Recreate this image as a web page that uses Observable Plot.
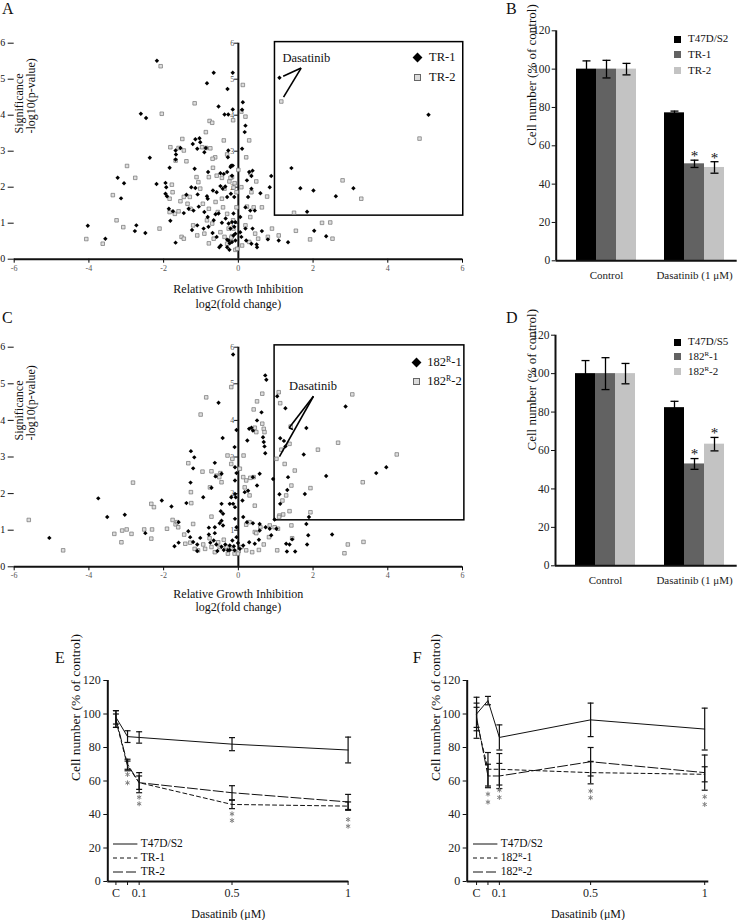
<!DOCTYPE html>
<html>
<head>
<meta charset="utf-8">
<script src="https://cdn.jsdelivr.net/npm/d3@7"></script>
<script src="https://cdn.jsdelivr.net/npm/@observablehq/plot@0.6"></script>
<style>
  html,body{margin:0;padding:0;background:#fff;}
  #fig{position:relative;width:738px;height:920px;overflow:hidden;background:#fff;
       font-family:"Liberation Serif","Times New Roman",serif;color:#111;}
  #fig svg{position:absolute;}
  #fig svg, #fig svg text{font-family:"Liberation Serif","Times New Roman",serif !important;}
  .t{position:absolute;white-space:nowrap;}
  .sup{font-size:62%;position:relative;top:-0.55em;}
</style>
</head>
<body>
<div id="fig"></div>
<script>
// ================= DATA =================
// ---- Volcano plots (A, C): [log2 fold change, -log10 p] ----
const volXTicks = [-6, -4, -2, 0, 2, 4, 6];
const volYTicks = [1, 2, 3, 4, 5, 6];

const volA_TR1 = [[-2.18,5.51],[-0.66,5.18],[-0.15,5.18],[-0.84,4.89],[-0.29,4.73],[0.12,4.36],[0.1,4.15],[-0.53,4.24],[-0.37,4.02],[-0.27,4.02],[-0.15,4.16],[-2.61,4.04],[-2.47,3.92],[0.19,3.71],[0.17,3.53],
[-1.15,3.33],[-1.04,3.36],[-1.02,3.25],[-1.22,3.2],[-1.1,3.07],[-0.87,3.09],[-0.91,2.97],[-1.55,3.09],[-1.68,3.02],[-1.67,2.91],[-1.68,2.77],[-0.27,3.02],[0.1,3.07],[-0.15,2.6],[-0.19,2.6],[-0.21,2.56],[-0.28,2.83],[-2.37,2.82],[-1.84,2.54],
[-1.17,2.51],[-0.81,2.42],[-0.48,2.39],[-0.39,2.37],[-0.3,2.42],[-0.17,2.32],[0.38,2.46],[0.29,2.42],[0.35,2.31],[0.23,2.19],[0.88,2.31],[0.84,2.0],[0.35,1.96],[0.59,1.83],[0.26,1.73],
[-3.23,2.26],[-3.06,2.11],[-3.14,1.69],[-2.19,2.09],[-1.95,2.12],[-1.93,2.0],[-1.95,1.82],[-1.91,1.75],
[-1.39,1.79],[-1.26,2.0],[-1.15,1.98],[-1.09,1.8],[-0.84,1.75],[-0.82,1.68],[-0.68,1.91],[-0.58,1.86],[-0.48,2.03],[-0.42,1.96],[-0.35,2.02],[-0.3,1.73],[-0.2,1.82],[-0.11,1.73],
[-1.86,1.4],[-1.82,1.07],[-1.75,1.33],[-1.46,1.28],[-1.33,1.4],[-1.2,1.35],[-1.06,1.46],[-0.91,1.31],[-0.82,1.17],[-0.66,1.08],[-0.61,1.25],[-0.53,1.27],[-0.44,1.01],[-0.34,1.13],[-0.26,0.99],[-0.13,1.27],[-0.17,1.03],[-0.11,0.9],
[0.19,1.44],[0.32,1.35],[0.44,1.35],[0.05,1.17],[-0.08,1.03],[-0.21,0.85],[-0.08,0.71],[0.05,0.75],[0.19,0.85],[0.38,0.85],[0.08,0.62],[0.21,0.52],[0.35,0.43],[0.49,0.41],[0.5,0.33],[0.63,0.78],[0.79,0.55],[1.08,0.52],[1.33,0.47],[2.03,0.79],[2.35,0.64],
[-0.26,0.52],[-0.17,0.48],[-0.3,0.33],[-0.24,0.26],
[-4.03,0.93],[-3.56,0.57],[-2.77,0.78],[-2.73,0.94],[-2.49,0.73],[-1.68,0.46],
[-1.24,0.81],[-1.1,0.94],[-0.93,0.85],[-0.8,0.9],[-0.69,0.73],[-0.58,0.62],[-0.51,0.33],[-0.47,0.38],[-0.3,0.54],[-0.23,0.44],[-0.13,0.66],[-0.08,0.52],
[1.1,5.04],[5.09,4.01],[1.42,2.53],[1.66,1.97],[2.01,1.91],[2.61,1.75],[3.08,1.97],[1.84,1.32]];

const volA_TR2 = [[-2.08,5.36],[0.12,4.84],[-1.17,4.33],[-2.05,4.04],[0.08,4.1],[0.19,3.96],[-0.77,3.84],[-0.7,3.79],[-0.14,3.86],[-0.87,3.53],[-1.5,3.34],[0.29,3.3],[-0.39,3.3],
[-1.82,3.11],[-1.46,3.02],[-1.6,3.09],[-1.68,2.74],[-1.39,2.72],[-0.97,3.11],[-0.86,3.09],[-0.75,3.08],[-0.3,2.91],[-0.62,2.83],[-0.69,2.79],[0.21,2.83],
[-2.98,2.59],[-2.76,2.26],[-3.36,1.78],[-3.26,1.08],[-3.08,0.89],[-4.07,0.56],[-3.63,0.43],[-2.11,0.85],
[-1.78,2.07],[-1.76,1.86],[-1.84,1.68],[-1.84,1.31],[-1.7,1.26],[-1.6,1.33],[-1.55,1.61],[-1.46,1.73],[-1.3,1.73],[-1.12,2.28],[-1.07,2.14],[-1.02,1.96],[-0.79,2.28],[-0.68,2.54],[-0.58,2.32],[-0.44,2.26],[-0.37,1.96],[-0.24,2.16],[-0.17,2.28],[-0.13,1.99],[-0.05,1.86],
[-1.36,1.54],[-1.28,1.4],[-1.21,0.94],[-0.95,1.54],[-0.79,1.4],[-0.84,1.08],[-0.7,0.99],[-0.61,1.59],[-0.55,1.31],[-0.44,1.68],[-0.41,1.44],[-0.3,1.26],[-0.26,0.85],[-0.14,1.08],[-0.05,1.44],
[-1.52,0.62],[-1.46,0.57],[-1.1,0.66],[-0.91,0.71],[-0.79,0.44],[-0.66,0.57],[-0.48,0.75],[-0.37,0.62],[-0.3,0.43],[-0.17,0.64],[-0.08,0.26],
[0.0,2.48],[-0.21,2.26],[-0.1,2.11],[0.08,2.0],[0.32,2.39],[0.35,1.86],[0.48,2.16],[0.77,1.74],[0.63,1.44],[0.41,1.44],[0.23,1.46],[0.32,1.17],[0.19,0.94],
[0.9,0.85],[1.08,0.66],[1.54,0.79],[1.92,0.55],[2.24,1.01],[2.46,1.02],[2.52,0.57],[0.79,0.62],[0.53,0.57],[0.45,0.71],[0.29,0.48],[0.1,0.38],[-0.03,0.29],[-0.19,0.6],[-0.13,0.85],
[1.15,4.38],[4.85,3.35],[2.79,2.19],[3.29,1.68],[1.49,1.29]];

const volC_R1 = [[-0.14,5.8],[0.72,5.23],[0.75,5.11],[1.04,4.66],[1.26,4.33],[2.87,4.38],[0.62,4.22],[-0.53,4.48],
[0.5,4.0],[0.29,3.77],[0.35,3.8],[0.39,3.72],[0.24,3.45],[-0.05,3.74],[-0.42,3.52],[-0.1,3.27],
[0.66,3.54],[0.68,3.41],[0.7,3.29],[0.72,3.1],[1.12,3.51],[1.22,3.44],[1.26,3.29],[1.82,3.79],[1.75,3.07],
[-1.27,3.16],[-1.18,2.99],[-1.21,2.69],[-1.28,2.3],[-0.63,2.84],
[2.35,2.48],[3.69,2.56],[3.96,2.72],[1.33,2.45],[1.31,2.1],[1.1,1.98],[1.12,1.72],[1.78,1.99],[1.89,1.36],[1.82,1.17],
[0.57,2.54],[0.5,2.22],[0.39,2.45],[0.26,2.08],[0.17,2.04],[0.11,1.81],[-0.07,1.9],[-0.14,1.72],[-0.05,2.56],[0.93,2.4],[0.97,1.29],
[0.13,1.36],[0.23,1.22],[0.39,1.19],[0.57,1.17],[0.73,1.08],[0.84,1.04],[1.02,1.04],
[1.87,0.86],[2.51,0.88],[1.44,0.75],[1.28,0.63],[1.37,0.61],[1.3,0.42],[1.52,0.42],[1.84,0.61],[0.88,0.86],[0.57,0.99],[0.55,0.74],[0.44,0.63],[0.29,0.67],[0.13,0.58],[0.04,0.49],[-0.1,0.45],[-0.23,0.58],[-0.28,0.45],
[-0.45,2.54],[-0.61,2.47],[-0.72,2.16],[-0.94,1.9],[-1.39,1.74],[-1.79,1.65],[-2.05,1.81],[-3.75,1.87],[-3.51,1.36],[-3.04,1.42],[-5.06,0.79],[-2.49,0.92],
[-0.45,1.72],[-0.47,1.52],[-0.41,1.45],[-0.45,1.26],[-0.5,1.19],[-0.41,1.13],
[-0.09,2.72],[-0.09,2.36],[-0.09,1.99],[-0.09,1.63],[-0.09,1.31],[-0.05,1.08],[-0.05,0.81],[-0.19,1.9],[-0.23,1.72],
[-1.6,1.22],[-1.71,0.56],[-1.6,0.66],[-1.34,0.97],[-1.29,0.81],[-1.21,0.68],[-1.1,0.61],[-1.1,0.43],[-1.02,0.79],[-0.79,1.07],[-0.79,0.88],[-0.75,0.66],[-0.63,0.92],[-0.66,0.72],[-0.59,0.61],[-0.56,0.43],[-0.45,0.55],[-0.39,0.46],[-0.35,0.61],[-0.23,0.46],[-0.16,0.72],[-0.12,0.56],[-0.01,0.65],[-0.63,1.08]];

const volC_R2 = [[-0.19,4.91],[1.08,4.77],[3.05,4.71],[-0.86,4.63],[0.64,4.73],[0.5,4.52],[1.12,4.47],[0.41,4.3],[-1.01,4.16],
[0.64,3.91],[0.44,3.8],[0.68,3.77],[0.48,3.68],[0.7,3.68],[1.4,3.83],[1.37,3.36],[1.15,3.2],[1.02,2.95],[2.13,3.2],[2.67,3.39],[4.24,3.07],[3.33,2.31],
[1.24,2.81],[1.51,2.63],[1.42,2.22],[1.28,1.95],[1.18,1.81],[1.1,1.4],[1.2,1.43],[1.37,1.52],[1.93,2.15],[1.93,1.49],
[0.41,2.45],[0.32,2.43],[0.21,2.36],[0.13,2.45],[0.17,2.17],[0.3,1.95],[0.44,1.67],[0.04,2.68],
[-0.29,3.04],[-0.19,2.81],[-0.16,2.95],[0.14,3.04],
[-1.34,2.83],[-0.96,2.6],[-0.72,2.61],[-0.59,2.49],[-0.48,2.56],[-0.45,2.31],[-0.51,2.45],[-1.27,2.04],[-0.76,2.17],[-2.82,2.3],[-1.26,1.74],[-2.33,1.72],[-2.26,1.63],[-0.72,1.37],
[-5.61,1.28],[-4.69,0.45],[-3.32,0.9],[-3.13,0.67],[-3.11,0.99],[-2.99,1.02],[-2.86,0.9],[-2.52,1.02],[-2.31,1.02],[-2.33,0.77],[-1.91,1.04],
[-1.76,1.28],[-1.68,1.16],[-1.64,1.22],[-1.61,1.08],[-1.45,0.88],[-1.21,1.17],[-1.17,0.49],[-1.08,0.45],[-0.94,0.61],[-0.89,0.49],[-0.77,0.78],[-0.72,0.54],[-0.63,0.4],[-0.54,0.67],[-0.5,0.54],[-0.39,0.74],[-0.32,0.55],[-0.28,0.36],[-0.19,0.49],[-0.1,0.36],[0.01,0.43],[-1.42,0.63],[-1.29,0.66],
[0.21,1.15],[0.3,1.22],[0.44,0.95],[0.48,0.92],[0.59,1.08],[0.84,1.13],[0.97,1.08],[1.06,1.04],[1.09,1.36],[1.42,1.13],[1.44,0.78],[1.04,0.45],[2.93,0.61],[2.84,0.37],[3.35,0.68],[0.82,0.81],[0.68,0.61],[0.55,0.46],[0.37,0.4],[0.21,0.45],[0.08,0.54],[-0.01,0.36]];

// boxes and annotations (data units)
const volA_box = [{x1: 0.98, x2: 6.02, y1: 1.21, y2: 6.03}];
const volC_box = [{x1: 0.97, x2: 6.05, y1: 1.27, y2: 6.05}];
const volA_annLines = [{x1:1.68,y1:5.31,x2:1.2,y2:5.08},{x1:1.68,y1:5.31,x2:1.21,y2:4.5}];
const volA_annText = [{x:1.82,y:5.59,text:"Dasatinib"}];
const volC_annLines = [{x1:2.01,y1:4.66,x2:1.36,y2:3.8},{x1:1.36,y1:3.8,x2:1.46,y2:3.75},{x1:2.01,y1:4.66,x2:1.1,y2:3.01}];
const volC_annText = [{x:2.0,y:4.95,text:"Dasatinib"}];

// ---- Bar charts (B, D) ----
const barYTicks = [0, 20, 40, 60, 80, 100, 120];
const barColors = ["#000000", "#626262", "#c3c3c3"];
const barGroups = ["Control", "Dasatinib (1 μM)"];
const bSeries = ["T47D/S2", "TR-1", "TR-2"];
const bMean = [[100, 77.2], [100, 50.6], [100, 48.7]];
const bErr  = [[4.3, 0.9], [4.6, 1.9], [3.0, 3.0]];
const bSig  = [[0, 0], [0, 1], [0, 1]];
const dSeries = ["T47D/S5", "182R-1", "182R-2"];
const dMean = [[100, 82.3], [100, 53.0], [100, 63.3]];
const dErr  = [[6.8, 3.3], [8.3, 2.8], [5.3, 3.5]];
const dSig  = [[0, 0], [0, 1], [0, 1]];

// ---- Dose-response (E, F) ----
const doses = [0, 0.05, 0.1, 0.5, 1];
const doseLabels = ["C", "", "0.1", "0.5", "1"];
const doseYTicks = [0, 20, 40, 60, 80, 100, 120];
const eSeries = ["T47D/S2", "TR-1", "TR-2"];
const eMean = [[98, 86.5, 86, 82, 78.5], [96, 69, 59, 46, 45], [97, 70, 59, 53, 47.5]];
const eErr  = [[4, 3.5, 3.4, 3.9, 7.7], [4, 2.9, 4, 2.5, 2.5], [5, 3, 6, 4.2, 4.5]];
const eStars = [[0.05,63.9],[0.05,58.9],[0.1,50.3],[0.1,46.4],[0.5,40.4],[0.5,36.4],[1,37],[1,33]];
const fSeries = ["T47D/S2", "182R-1", "182R-2"];
const fMean = [[100, 108, 86, 96.5, 91], [96, 67, 67, 65, 64], [98, 63, 63, 71.5, 65]];
const fErr  = [[10, 2.5, 7.5, 10, 12.5], [10.5, 10, 9.4, 6.7, 4.5], [6, 7, 7.5, 8.5, 10.5]];
const fStars = [[0.05,52.2],[0.05,47.4],[0.1,54.6],[0.1,50.2],[0.5,54],[0.5,50],[1,50.6],[1,46]];
const lineDashes = [null, "4,3", "10,3"];

// ================= HELPERS =================
const fig = document.getElementById("fig");
const FONT = "'Liberation Serif','Times New Roman',serif";
const STYLE = {fontFamily: FONT, background: "transparent", overflow: "visible", color: "#111"};
function put(svg, left, top) { svg.style.left = left + "px"; svg.style.top = top + "px"; fig.appendChild(svg); }
function txt(html, x, baseline, size, anchor) {
  const d = document.createElement("div"); d.className = "t";
  d.innerHTML = html; d.style.fontSize = size + "px"; d.style.lineHeight = size + "px";
  d.style.top = (baseline - 0.8375 * size) + "px"; d.style.left = x + "px";
  if (anchor === "middle") d.style.transform = "translateX(-50%)";
  fig.appendChild(d); return d;
}
function shape(x, y, w, h, css) {
  const d = document.createElement("div");
  d.style.cssText = `position:absolute;left:${x}px;top:${y}px;width:${w}px;height:${h}px;box-sizing:border-box;` + css;
  fig.appendChild(d); return d;
}
function supR(s) { return s.replace(/^182R-/, '182<span class="sup">R</span>-'); }
const capSymbol = { draw(ctx, size) { const r = Math.sqrt(size / Math.PI); ctx.moveTo(-r, 0); ctx.lineTo(r, 0); } };

// ================= VOLCANO =================
function volcano({black, grey, boxRect, annLines, annText, marginTop, marginBottom, labelDy, xlabDy, xlabLH}) {
  const toP = a => a.map(([x, y]) => ({x, y}));
  return Plot.plot({
    width: 470, height: 310, marginLeft: 13.7, marginRight: 8, marginTop, marginBottom,
    style: STYLE,
    x: {domain: [-6, 6]}, y: {domain: [0, 6]},
    marks: [
      Plot.axisX({ticks: volXTicks, tickFormat: d => String(d), tickSize: 4, tickPadding: 2, fontSize: 8, fill: "#555", stroke: "#000", label: null}),
      Plot.ruleY([0], {strokeWidth: 2}),
      Plot.ruleX([0], {y1: 0, y2: 6, strokeWidth: 2}),
      Plot.ruleY(volYTicks, {x1: -0.1, x2: 0, y: d => d}),
      Plot.text(volYTicks, {x: 0, y: d => d, dx: -4, textAnchor: "end", fontSize: 8, fill: "#555", text: d => String(d)}),
      Plot.rect(boxRect, {x1: "x1", x2: "x2", y1: "y1", y2: "y2", fill: "none", stroke: "#000", strokeWidth: 1.5}),
      Plot.dot(toP(grey), {x: "x", y: "y", symbol: "square", r: 2.0, fill: "#dedede", stroke: "#737373", strokeWidth: 0.7}),
      Plot.dot(toP(black), {x: "x", y: "y", symbol: "diamond2", r: 2.0, fill: "#000", stroke: "none"}),
      Plot.link(annLines, {x1: "x1", y1: "y1", x2: "x2", y2: "y2", stroke: "#000", strokeWidth: 1.6}),
      Plot.text(annText, {x: "x", y: "y", text: "text", fontSize: 12.5, fill: "#111"}),
      Plot.text(["Relative Growth Inhibition\nlog2(fold change)"], {frameAnchor: "bottom", lineAnchor: "top", dy: xlabDy, fontSize: 12, lineHeight: xlabLH, fill: "#111"}),
      Plot.text(["Significance\n-log10(p-value)"], {frameAnchor: "left", rotate: -90, lineAnchor: "top", dx: 0, dy: labelDy, fontSize: 12, lineHeight: 1.0, fill: "#111"})
    ]
  });
}

// ================= BARS =================
function bars({series, mean, err, sig, marginLeft, marginTop, marginBottom}) {
  const W = 238, H = 300, marginRight = 1.3;
  const frameW = W - marginLeft - marginRight;
  const rows = [];
  series.forEach((s, si) => barGroups.forEach((g, gi) => rows.push({
    series: s, si, group: g, mean: mean[si][gi],
    lo: mean[si][gi] - err[si][gi], hi: mean[si][gi] + err[si][gi], sig: sig[si][gi]})));
  const BW = 20;
  const marks = [
    Plot.axisY({ticks: barYTicks, tickSize: 4, tickPadding: 2, fontSize: 11.5, fill: "#222", label: null}),
    Plot.axisX({tickSize: 0, tickPadding: 10, fontSize: 11, fill: "#222", label: null})
  ];
  series.forEach((s, si) => {
    const data = rows.filter(r => r.si === si);
    const off = (si - 1) * BW;
    marks.push(Plot.barY(data, {x: "group", y: "mean", fill: barColors[si], insetLeft: BW * si, insetRight: BW * (2 - si)}));
    marks.push(Plot.ruleX(data, {x: "group", y1: "lo", y2: "hi", dx: off, stroke: "#000", strokeWidth: 1.3}));
    marks.push(Plot.dot(data, {x: "group", y: "hi", dx: off, symbol: capSymbol, r: 4, fill: "none", stroke: "#000", strokeWidth: 1.3}));
    marks.push(Plot.dot(data, {x: "group", y: "lo", dx: off, symbol: capSymbol, r: 4, fill: "none", stroke: "#000", strokeWidth: 1.3}));
    marks.push(Plot.text(data.filter(r => r.sig), {x: "group", y: "hi", text: () => "*", dx: off, dy: -4, lineAnchor: "middle", fontSize: 15, fill: "#111"}));
  });
  marks.push(Plot.ruleY([0], {strokeWidth: 2}));
  marks.push(Plot.ruleX([0], {x: null, dx: -frameW / 2, strokeWidth: 2}));
  marks.push(Plot.text(["Cell number (% of control)"], {frameAnchor: "left", rotate: -90, lineAnchor: "top", dx: -29, fontSize: 13, fill: "#111"}));
  return Plot.plot({
    width: W, height: H, marginLeft, marginRight, marginTop, marginBottom, style: STYLE,
    x: {domain: barGroups, paddingInner: 0.3236, paddingOuter: 0.182, align: 0.607},
    y: {domain: [0, 120]},
    marks
  });
}

// ================= DOSE RESPONSE =================
const doseLabelMap = new Map(doses.map((d, i) => [d, doseLabels[i]]));
function doseChart({width, marginLeft, marginRight, xDomain, series, mean, err, stars, labelDx}) {
  const rows = [];
  series.forEach((s, si) => doses.forEach((d, di) => rows.push({
    s, si, dose: d, mean: mean[si][di], lo: mean[si][di] - err[si][di], hi: mean[si][di] + err[si][di]})));
  const marks = [
    Plot.axisY({ticks: doseYTicks, tickSize: 4, tickPadding: 3, fontSize: 12, fill: "#222", label: null}),
    Plot.axisX({ticks: doses, tickFormat: d => doseLabelMap.get(d), tickSize: 4, tickPadding: 3, fontSize: 12, fill: "#222", label: null})
  ];
  series.forEach((s, si) => {
    const data = rows.filter(r => r.si === si);
    marks.push(Plot.line(data, {x: "dose", y: "mean", stroke: "#111", strokeWidth: 1, strokeDasharray: lineDashes[si]}));
    marks.push(Plot.ruleX(data, {x: "dose", y1: "lo", y2: "hi", stroke: "#111", strokeWidth: 1.2}));
    marks.push(Plot.dot(data, {x: "dose", y: "hi", symbol: capSymbol, r: 3, fill: "none", stroke: "#111", strokeWidth: 1.2}));
    marks.push(Plot.dot(data, {x: "dose", y: "lo", symbol: capSymbol, r: 3, fill: "none", stroke: "#111", strokeWidth: 1.2}));
  });
  // significance asterisks
  marks.push(Plot.dot(stars, {x: d => d[0], y: d => d[1], symbol: "asterisk", r: 2.3, fill: "none", stroke: "#808080", strokeWidth: 1}));
  marks.push(Plot.ruleX([xDomain[0]], {strokeWidth: 2}));
  marks.push(Plot.ruleY([0], {strokeWidth: 2}));
  marks.push(Plot.text(["Cell number (% of control)"], {frameAnchor: "left", rotate: -90, lineAnchor: "top", dx: labelDx, fontSize: 13.5, fill: "#111"}));
  marks.push(Plot.text(["Dasatinib (μM)"], {frameAnchor: "bottom", lineAnchor: "middle", dy: 33, fontSize: 12, fill: "#111"}));
  return Plot.plot({
    width, height: 280, marginLeft, marginRight, marginTop: 40, marginBottom: 39, style: STYLE,
    x: {domain: xDomain}, y: {domain: [0, 120]},
    marks
  });
}

// ================= BUILD =================
put(volcano({black: volA_TR1, grey: volA_TR2, boxRect: volA_box, annLines: volA_annLines, annText: volA_annText,
  marginTop: 42.7, marginBottom: 51.3, labelDy: -17.7, xlabDy: 23.8, xlabLH: 1.22}), 0, 0);
put(volcano({black: volC_R1, grey: volC_R2, boxRect: volC_box, annLines: volC_annLines, annText: volC_annText,
  marginTop: 36.7, marginBottom: 53.7, labelDy: -16.5, xlabDy: 21.2, xlabLH: 1.12}), 0, 310);
put(bars({series: bSeries, mean: bMean, err: bErr, sig: bSig, marginLeft: 55.7, marginTop: 30.3, marginBottom: 39.7}), 500, 0);
put(bars({series: dSeries, mean: dMean, err: dErr, sig: dSig, marginLeft: 55, marginTop: 29.7, marginBottom: 39.7}), 500, 305);
put(doseChart({width: 370, marginLeft: 107.3, marginRight: 21.7, xDomain: [-0.035, 1.003], series: eSeries, mean: eMean, err: eErr, stars: eStars, labelDx: -37.4}), 0, 640);
put(doseChart({width: 368, marginLeft: 96.7, marginRight: 29.7, xDomain: [-0.041, 1.018], series: fSeries, mean: fMean, err: fErr, stars: fStars, labelDx: -36.8}), 370, 640);

// panel letters
[["A", 2, 14], ["B", 506, 14], ["C", 2, 323.3], ["D", 506, 323.3], ["E", 55, 663.3], ["F", 412.7, 663.3]]
  .forEach(([l, x, b]) => txt(l, x, b, 16));

// volcano legends
function volLegend(names, x, y1, y2, tx) {
  shape(x - 3.5, y1 - 3.5, 7, 7, "background:#000;transform:rotate(45deg);");
  shape(x - 3.8, y2 - 3.8, 7.6, 7.6, "background:#dcdcdc;border:1px solid #666;");
  txt(supR(names[0]), tx, y1 + 4.1, 12.5);
  txt(supR(names[1]), tx, y2 + 4.1, 12.5);
}
volLegend(["TR-1", "TR-2"], 417.7, 57.7, 77.3, 429);
volLegend(["182R-1", "182R-2"], 416.7, 362.3, 381.7, 427.3);

// bar legends
function barLegend(series, baselines) {
  series.forEach((s, i) => {
    shape(674, baselines[i] - 7, 7, 7, `background:${barColors[i]};`);
    txt(supR(s), 688, baselines[i], 11);
  });
}
barLegend(bSeries, [42.7, 58.4, 74]);
barLegend(dSeries, [345.6, 360.3, 375.3]);

// line legends
function lineLegend(series, x0, tx) {
  const ys = [844, 858, 872];
  series.forEach((s, i) => {
    const ns = "http://www.w3.org/2000/svg";
    const svg = document.createElementNS(ns, "svg");
    svg.setAttribute("width", 26); svg.setAttribute("height", 4);
    svg.style.left = x0 + "px"; svg.style.top = (ys[i] - 2) + "px";
    const ln = document.createElementNS(ns, "line");
    ln.setAttribute("x1", 0); ln.setAttribute("x2", 24.4); ln.setAttribute("y1", 2); ln.setAttribute("y2", 2);
    ln.setAttribute("stroke", "#111"); ln.setAttribute("stroke-width", 1);
    if (lineDashes[i]) ln.setAttribute("stroke-dasharray", lineDashes[i]);
    svg.appendChild(ln); fig.appendChild(svg);
    txt(supR(s), tx, ys[i] + 4, 11.5);
  });
}
lineLegend(eSeries, 113.3, 140.7);
lineLegend(fSeries, 473.3, 500.7);
</script>
</body>
</html>
